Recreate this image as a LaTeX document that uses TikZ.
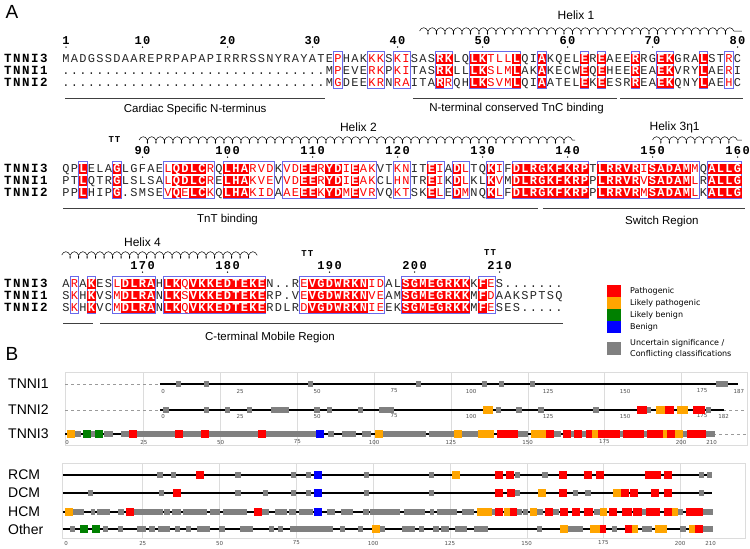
\documentclass[tikz,border=0pt]{standalone}
\usepackage{fontspec}
\usepackage{xcolor}
\setmainfont{Liberation Sans}
\newfontfamily\seqfont{Liberation Mono}
\newfontfamily\namefont[LetterSpace=12]{Liberation Mono}
\newfontfamily\pltfont{DejaVu Sans}
\usetikzlibrary{decorations.pathmorphing}

\definecolor{espred}{RGB}{255,0,0}
\definecolor{frameblue}{RGB}{105,105,235}
\definecolor{vpath}{RGB}{255,0,0}
\definecolor{vlike}{RGB}{255,165,0}
\definecolor{vlben}{RGB}{0,128,0}
\definecolor{vben}{RGB}{0,0,255}
\definecolor{vunc}{RGB}{128,128,128}
\definecolor{gridgray}{RGB}{220,220,220}

% markers inside a sequence: \smr{..} similar, \idr{..} identical
\newcommand\smr[1]{#1}
\newcommand\idr[1]{#1}
\ExplSyntaxOn
\int_new:N \l__espr_mode_int
\cs_new_protected:Npn \__espr_cell:n #1
 {
  \int_case:nnF { \l__espr_mode_int }
   {
    { 1 } { \makebox[8.5pt]{\textcolor{espred}{#1}} }
    { 2 } { { \fboxsep=0pt \colorbox{espred}{\makebox[8.5pt]{\rule[-2pt]{0pt}{9.9pt}\bfseries\color{white}#1}} } }
   }
   { \makebox[8.5pt]{#1} }
 }
\NewDocumentCommand \seqrow { m }
 {
  \int_set:Nn \l__espr_mode_int { 0 }
  \tl_map_inline:nn { #1 }
   {
    \tl_if_eq:nnTF { ##1 } { \smr }
     { \int_set:Nn \l__espr_mode_int { 1 } }
     {
      \tl_if_eq:nnTF { ##1 } { \idr }
       { \int_set:Nn \l__espr_mode_int { 2 } }
       {
        \tl_map_inline:nn { ##1 } { \__espr_cell:n { ####1 } }
        \int_set:Nn \l__espr_mode_int { 0 }
       }
     }
   }
 }
\ExplSyntaxOff

% variant marks (residue, row)
\newcommand\uncsq[2]{\fill[vunc] (#1-0.85,#2-2.6) rectangle (#1+0.85,#2+2.6);}
\newcommand\uncbar[3]{\fill[vunc] (#1,#3-2.6) rectangle (#2,#3+2.6);}
\newcommand\varsq[3]{\fill[#3] (#1-1.3,#2-4) rectangle (#1+1.3,#2+4);}
\newcommand\varbar[4]{\fill[#4] (#1,#3-4) rectangle (#2,#3+4);}

\tikzset{
  seqline/.style={anchor=base west, inner sep=0pt, outer sep=0pt, text=black!85,
    font=\seqfont\fontsize{12}{12}\selectfont},
  seqname/.style={anchor=base west, inner sep=0pt, font=\namefont\bfseries\fontsize{12.5}{12}\selectfont},
  colnum/.style={inner sep=0pt, font=\namefont\bfseries\fontsize{12}{12}\selectfont},
  turnlbl/.style={inner sep=0pt, font=\namefont\bfseries\fontsize{9}{9}\selectfont},
  helixlbl/.style={inner sep=0pt, font=\fontsize{12}{12}\selectfont},
  regionlbl/.style={inner sep=0pt, font=\fontsize{11.5}{12}\selectfont},
  regionline/.style={line width=0.9pt, black!75},
  simframe/.style={draw=frameblue, line width=0.6pt},
  helixcoil/.style={decorate, line width=0.5pt,
    decoration={coil, aspect=0.6, segment length=8.5pt, amplitude=3.3pt}},
  panellbl/.style={inner sep=0pt, font=\fontsize{19}{19}\selectfont},
  genelbl/.style={anchor=west, inner sep=0pt, font=\fontsize{14}{14}\selectfont},
  ticklbl/.style={inner sep=0pt, text=black!70, font=\pltfont\fontsize{5.5}{6}\selectfont},
  legendlbl/.style={anchor=west, inner sep=0pt, font=\pltfont\fontsize{8}{9}\selectfont},
  protline/.style={line width=1.3pt},
  boxframe/.style={draw=gridgray, line width=0.8pt},
}

\begin{document}
\begin{tikzpicture}[x=1pt, y=-1pt]
\useasboundingbox (0,0) rectangle (750,549);

\node[panellbl] (pA) at (12,12) {A};
\node[panellbl] (pB) at (12,354) {B};

% ---- names
\foreach \yb/\n [count=\i] in {62/TNNI3,74/TNNI1,86/TNNI2,172/TNNI3,184/TNNI1,196/TNNI2,287/TNNI3,299/TNNI1,311/TNNI2}
  \node[seqname] (name\i) at (4,\yb) {\n};

\begin{scope}[shift={(66,0)}, x=8.5pt]
% ---- block 1 : 1-80
\node[helixlbl] (hx1) at (60,15) {Helix 1};
\draw[helixcoil] (41.6,31) -- (79.5,31);
\foreach \c/\n in {0/1,9/10,19/20,29/30,39/40,49/50,59/60,69/70,79/80} {
  \node[colnum] (numa\n) at (\c,41) {\n};
  \fill (\c,47) circle[radius=0.75pt];
}
\foreach \a/\b in {32/32,36/37,39/40,44/45,48/53,56/56,61/61,63/63,67/67,70/71,75/75,78/78}
  \draw[simframe] (\a-0.5,51) rectangle (\b+0.5,88.5);
\node[seqline] (seq3a) at (-0.5,62) {\seqrow{MADGSSDAAREPRPAPAPIRRRSSNYRAYATE\smr{P}HAK\smr{KK}S\smr{KI}SAS\idr{RK}LQ\idr{LK}\smr{TLL}\idr{L}QI\idr{A}KQEL\idr{E}R\idr{E}AEE\idr{R}RG\idr{EK}GRA\idr{L}ST\smr{R}C}};
\node[seqline] (seq1a) at (-0.5,74) {\seqrow{...............................M\smr{P}EVE\smr{RK}P\smr{KI}TAS\idr{RK}LL\idr{LK}\smr{SLM}\idr{L}AK\idr{A}KECW\idr{E}Q\idr{E}HEE\idr{R}EA\idr{EK}VRY\idr{L}AE\smr{R}I}};
\node[seqline] (seq2a) at (-0.5,86) {\seqrow{...............................M\smr{G}DEE\smr{KR}N\smr{RA}ITA\idr{R}\smr{R}QH\idr{LK}\smr{SVM}\idr{L}QI\idr{A}ATEL\idr{E}K\idr{E}ESR\idr{R}EA\idr{EK}QNY\idr{L}AE\smr{H}C}};
\draw[regionline] (-0.1,98) -- (30.5,98);
\draw[regionline] (40.8,98) -- (64.8,98);
\draw[regionline] (65.2,98) -- (79.6,98);
\node[regionlbl] (nterm) at (15.2,110) {Cardiac Specific N-terminus};
\node[regionlbl] (tncbind) at (53,109) {N-terminal conserved TnC binding};

% ---- block 2 : 81-160
\node[turnlbl] (tt1) at (5.7,140) {TT};
\node[helixlbl] (hx2) at (34.4,127) {Helix 2};
\node[helixlbl] (hx3) at (71.6,127) {Helix 3η1};
\draw[helixcoil] (8.6,140) -- (59.9,140);
\draw[helixcoil] (69,140) -- (79.5,140);
\foreach \c/\n in {9/90,19/100,29/110,39/120,49/130,59/140,69/150,79/160} {
  \node[colnum] (numb\n) at (\c,151) {\n};
  \fill (\c,157) circle[radius=0.75pt];
}
\foreach \a/\b in {2/2,6/6,12/17,19/24,26/36,39/40,43/44,46/47,50/51,53/61,63/74,76/79}
  \draw[simframe] (\a-0.5,161) rectangle (\b+0.5,198.5);
\node[seqline] (seq3b) at (-0.5,172) {\seqrow{QP\idr{L}ELA\idr{G}LGFAE\smr{L}\idr{QDLC}\smr{R}Q\idr{LHA}\smr{RVD}K\smr{VD}\idr{EE}\smr{R}\idr{YD}\smr{I}\idr{E}\smr{AK}VT\smr{KN}IT\idr{E}\smr{I}A\idr{D}\smr{L}TQ\idr{K}\smr{I}F\idr{DLRGKFKRP}T\idr{LRRVR}\smr{I}\idr{SADAM}\smr{M}Q\idr{ALLG}}};
\node[seqline] (seq1b) at (-0.5,184) {\seqrow{PT\idr{L}QTR\idr{G}LSLSA\smr{L}\idr{QDLC}\smr{R}E\idr{LHA}\smr{KVE}V\smr{VD}\idr{EE}\smr{R}\idr{YD}\smr{I}\idr{E}\smr{AK}CL\smr{HN}TR\idr{E}\smr{I}K\idr{D}\smr{L}KL\idr{K}\smr{V}M\idr{DLRGKFKRP}P\idr{LRRVR}\smr{V}\idr{SADAM}\smr{L}R\idr{ALLG}}};
\node[seqline] (seq2b) at (-0.5,196) {\seqrow{PP\idr{L}HIP\idr{G}.SMSE\smr{V}\idr{Q}\smr{E}\idr{LC}\smr{K}Q\idr{LHA}\smr{KID}A\smr{AE}\idr{EE}\smr{K}\idr{YD}\smr{M}\idr{E}\smr{VR}VQ\smr{KT}SK\idr{E}\smr{L}E\idr{D}\smr{M}NQ\idr{K}\smr{L}F\idr{DLRGKFKRP}P\idr{LRRVR}\smr{M}\idr{SADAM}\smr{L}K\idr{ALLG}}};
\draw[regionline] (-0.35,208) -- (55.5,208);
\draw[regionline] (56.1,208) -- (79.9,208);
\node[regionlbl] (tntbind) at (19,220) {TnT binding};
\node[regionlbl] (switch) at (70.1,222) {Switch Region};

% ---- block 3 : 161-210
\node[helixlbl] (hx4) at (9,242) {Helix 4};
\draw[helixcoil] (-0.5,255) -- (22.5,255);
\node[turnlbl] (tt2) at (28.4,254) {TT};
\node[turnlbl] (tt3) at (49.9,253) {TT};
\foreach \c/\n in {9/170,19/180,31/190,41/200,51/210} {
  \node[colnum] (numc\n) at (\c,266) {\n};
  \fill (\c,272) circle[radius=0.75pt];
}
\foreach \a/\b in {1/1,3/3,6/10,12/23,28/37,40/47,49/50}
  \draw[simframe] (\a-0.5,276) rectangle (\b+0.5,313.5);
\node[seqline] (seq3c) at (-0.5,287) {\seqrow{A\smr{R}A\idr{K}ES\smr{L}\idr{DLRA}H\idr{LK}\smr{Q}\idr{VKKEDTEKE}N..R\smr{E}\idr{VGDWRKN}\smr{ID}AL\idr{SGMEGRKK}K\idr{F}\smr{E}S.......}};
\node[seqline] (seq1c) at (-0.5,299) {\seqrow{S\smr{K}H\idr{K}VS\smr{M}\idr{DLRA}N\idr{LK}\smr{S}\idr{VKKEDTEKE}RP.V\smr{E}\idr{VGDWRKN}\smr{VE}AM\idr{SGMEGRKK}M\idr{F}\smr{D}AAKSPTSQ}};
\node[seqline] (seq2c) at (-0.5,311) {\seqrow{S\smr{K}H\idr{K}VC\smr{M}\idr{DLRA}N\idr{LK}\smr{Q}\idr{VKKEDTEKE}RDLR\smr{D}\idr{VGDWRKN}\smr{IE}EK\idr{SGMEGRKK}M\idr{F}\smr{E}SES.....}};
\draw[regionline] (-0.35,323) -- (3.2,323);
\draw[regionline] (4,323) -- (58.5,323);
\node[regionlbl] (cterm) at (24,338) {C-terminal Mobile Region};
\end{scope}

% ---- legend
\foreach \y/\c/\t [count=\i] in {291/vpath/Pathogenic,303/vlike/Likely pathogenic,315/vlben/Likely benign,327/vben/Benign} {
  \fill[\c] (607,\y-6) rectangle (621,\y+6);
  \node[legendlbl] (leg\i) at (630,\y) {\t};
}
\fill[vunc] (607,342) rectangle (621,355);
\node[legendlbl] (leg5) at (630,343) {Uncertain significance /};
\node[legendlbl] (leg6) at (630,354) {Conflicting classifications};

% ---- B, isoforms
\draw[boxframe] (65,372) rectangle (747,445);
\foreach \x in {143,220,297,374,451,528,604,681}
  \draw[gridgray, line width=0.4pt] (\x,372) -- (\x,445);
\draw[gridgray!70!black, dashed, line width=0.4pt] (65,384) -- (160,384);
\draw[gridgray!70!black, dashed, line width=0.4pt] (65,410) -- (160,410);
\draw[gridgray!70!black, dashed, line width=0.4pt] (723,410) -- (747,410);
\draw[gridgray!70!black, dashed, line width=0.4pt] (713,434) -- (747,434);
\node[genelbl] (gTNNI1) at (8,384) {TNNI1};
\node[genelbl] (gTNNI2) at (8,410) {TNNI2};
\node[genelbl] (gTNNI3) at (8,434) {TNNI3};

\begin{scope}[shift={(163,0)}, x=3.08pt]
\draw[protline] (-1,384) -- (186.7,384);
\draw[protline] (-1,410) -- (182,410);
\foreach \t in {0,25,50,75,100,125,150,175,187}
  \node[ticklbl] (tka\t) at (\t,391) {\t};
\foreach \t in {0,25,50,75,100,125,150,175,182}
  \node[ticklbl] (tkb\t) at (\t,416) {\t};
% TNNI1
\foreach \r in {5,14,48,83,104.5,110,120} {\uncsq{\r}{384}}
\uncbar{179.5}{183.5}{384}
% TNNI2
\foreach \r in {1,14,21,28,50,54,64,109,115.6,122.7,140.6,157.5,177} {\uncsq{\r}{410}}
\foreach \a/\b in {35/41,70/75} {\uncbar{\a}{\b}{410}}
\foreach \a/\b/\c in {104/107,160/163,167/170.5} {\varbar{\a}{\b}{410}{vlike}}
\foreach \a/\b in {154/157,163/166,172/176} {\varbar{\a}{\b}{410}{vpath}}
\end{scope}

\begin{scope}[shift={(67,0)}, x=3.07pt]
\draw[protline] (-0.5,434) -- (210.5,434);
\foreach \t in {0,25,50,75,100,125,150,175,200,210}
  \node[ticklbl] (tkc\t) at (\t,442) {\t};
\foreach \a/\b in {2/4.5,7/9.5,12/15,17.5/62,62/81,85/87,89.5/94,96/99,102/117,118/126,128/134,147/150,158/161,163/166,167/170,179/181.5,187/189.5,199/202,207/211}
  {\uncbar{\a}{\b}{434}}
\foreach \r/\c in {1.3/vlike,6.5/vlben,10.5/vlben,21.4/vpath,36.5/vpath,44.8/vpath,63.5/vpath,82.5/vben,101.5/vlike,127.5/vlike,157.3/vpath,162.8/vpath,166.5/vpath,170.5/vpath,172.3/vlike,195/vlike,196.8/vpath,199.5/vlike}
  {\varsq{\r}{434}{\c}}
\foreach \a/\b/\c in {134/139/vlike,140/147/vpath,151/156/vlike,173/180/vpath,181/188/vpath,189/194/vpath,202/208/vpath}
  {\varbar{\a}{\b}{434}{\c}}
\end{scope}

% ---- B, phenotypes
\draw[boxframe] (62,463) rectangle (745,538);
\foreach \x in {142,219,296,373,450,527,603,680}
  \draw[gridgray, line width=0.4pt] (\x,463) -- (\x,538);
\foreach \y/\t in {475/RCM,493/DCM,512/HCM,529/Other}
  \node[genelbl] (g\t) at (8,\y) {\t};

\begin{scope}[shift={(66,0)}, x=3.07pt]
\foreach \y in {475,493,512,529}
  \draw[protline] (-1,\y) -- (210.5,\y);
\foreach \t in {0,25,50,75,100,125,150,175,200,210}
  \node[ticklbl] (tkd\t) at (\t,543) {\t};
% RCM
\foreach \r in {30.6,35,56,74,79,98,119,147,156,207,209.5} {\uncsq{\r}{475}}
\foreach \r/\c in {43.6/vpath,82/vben,127/vlike,141/vpath,144.5/vpath,162/vpath,170/vpath,174/vpath,190/vpath,192.5/vpath,196/vpath}
  {\varsq{\r}{475}{\c}}
% DCM
\foreach \r in {8,31,56,65,74,79,98,119,147,166,170,207} {\uncsq{\r}{493}}
\foreach \r/\c in {36/vpath,82/vben,141/vpath,145/vpath,155/vlike,162/vpath,179.5/vlike,182/vpath,185/vpath,192/vpath,196/vpath}
  {\varsq{\r}{493}{\c}}
% HCM
\foreach \a/\b in {2.3/6,8/9.6,10/14.3,17/19,22/31.6,32/34,34.5/37.6,38/45.9,47/50,51/59,64/66,68/72,72.8/75,76/80.5,85/87.6,89.7/93.5,96.8/98.7,99/108.8,110/117,118.6/120,121/127.4,129/133,138.7/139.7,147/148.5,149/150.5,153.4/155.5,158.6/160.5,172/174,187.6/189,199.3/201,207.5/210.8}
  {\uncbar{\a}{\b}{512}}
\foreach \r/\c in {1/vlike,21/vpath,62.5/vpath,82/vben,141/vpath,144/vlike}
  {\varsq{\r}{512}{\c}}
\foreach \a/\b/\c in {134/138.7/vlike,144.5/147/vpath,151/153.4/vlike,156/158.6/vpath,161/163.5/vpath,164.8/167.4/vpath,168.7/171.6/vpath,174/176.2/vlike,177/179.5/vpath,181/184.4/vpath,184.7/187.6/vpath,189/193.5/vpath,194.8/197.4/vpath,197.4/199.3/vlike,202/207.5/vpath}
  {\varbar{\a}{\b}{512}{\c}}
% Other
\foreach \r in {2.2,12.9,17.8,28,36.2,40,50.8,67,69.9,90,95.9,103,115.8,120.5,154.2,178.7,201} {\uncsq{\r}{529}}
\foreach \a/\b in {23/26,30/34,42.6/46.9,56.7/61,73/87,109.4/113.7,122/124.7,126.7/130.6,133/137.5,163.5/168.4,187.6/191,207.5/210.8}
  {\uncbar{\a}{\b}{529}}
\foreach \r/\c in {6/vlben,9.9/vlben,100.9/vlike}
  {\varsq{\r}{529}{\c}}
\foreach \a/\b/\c in {161/163.5/vlike,170.7/174/vlike,174/176/vpath,182/184.4/vpath,184.4/186.3/vlike,191.9/195.8/vlike,203/205/vlike,205/207.5/vpath}
  {\varbar{\a}{\b}{529}{\c}}
\end{scope}
\end{tikzpicture}
\end{document}
